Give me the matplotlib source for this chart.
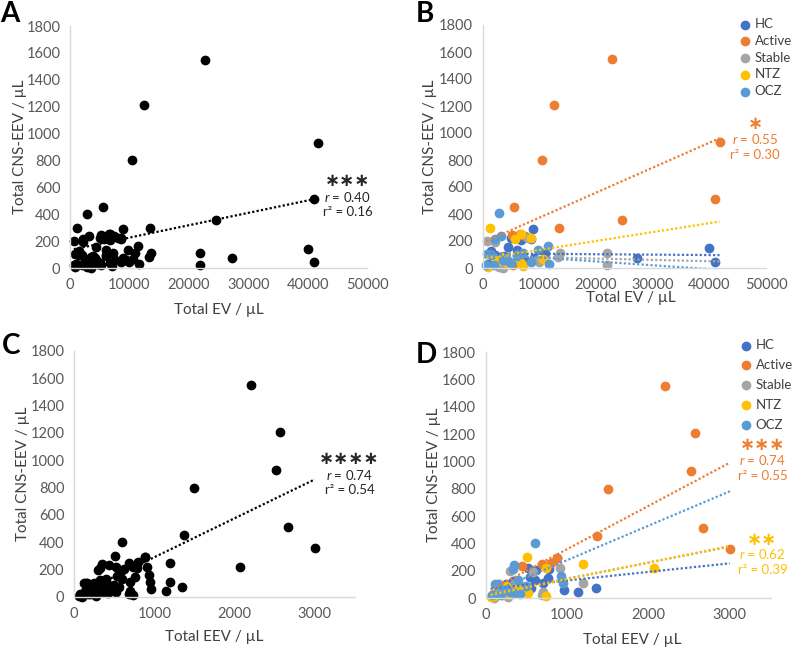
import numpy as np
import matplotlib
matplotlib.use('Agg')
import matplotlib.pyplot as plt

plt.rcParams['font.family'] = ['Lato', 'DejaVu Sans']
plt.rcParams['mathtext.fontset'] = 'custom'
plt.rcParams['mathtext.rm'] = 'Lato'
plt.rcParams['mathtext.it'] = 'Lato:italic'

groups = ['HC', 'Active', 'Stable', 'NTZ', 'OCZ']
colors = ['#4472C4', '#ED7D31', '#A5A5A5', '#FFC000', '#5B9BD5']

# per subject: total EV / uL, total EEV / uL, total CNS-EEV / uL
hc_ev = [40000, 41000, 27200, 8900, 8600, 4460, 6100, 6800, 5050, 1520, 2100, 7500, 3200, 9000, 1000, 2500, 11000, 3800]
hc_eev = [760, 1140, 1350, 880, 780, 540, 600, 620, 520, 330, 250, 960, 380, 560, 120, 230, 700, 420]
hc_cns = [145, 42, 75, 290, 215, 155, 133, 207, 220, 126, 100, 58, 55, 75, 30, 45, 110, 90]

act_ev = [22800, 12500, 41800, 10500, 41000, 5600, 24500, 13500, 6500, 5200, 7400, 4800, 5300]
act_eev = [2200, 2570, 2520, 1500, 2670, 1370, 3000, 880, 800, 690, 440, 120, 200]
act_cns = [1550, 1210, 930, 800, 510, 455, 358, 295, 255, 248, 235, 30, 20]

stb_ev = [700, 2200, 8000, 21900, 21900, 13600, 13300, 2900, 3600, 10000, 4200, 9500, 2500, 6000, 3000]
stb_eev = [300, 580, 910, 1190, 690, 400, 500, 274, 100, 700, 250, 450, 240, 350, 200]
stb_cns = [200, 192, 222, 110, 20, 113, 84, 8, 0, 45, 75, 60, 20, 100, 50]

ntz_ev = [1230, 5650, 6700, 8580, 7100, 6800, 810, 3580, 10600, 1500, 2500, 4500, 3000, 900]
ntz_eev = [510, 740, 1190, 2070, 740, 520, 100, 250, 400, 160, 200, 300, 150, 60]
ntz_cns = [300, 218, 250, 220, 18, 40, 15, 85, 70, 100, 50, 30, 60, 10]

ocz_ev = [2820, 3200, 2200, 11500, 9800, 7200, 8600, 11700, 640, 1500, 3500, 4500, 800, 5000, 2000, 6000]
ocz_eev = [600, 350, 330, 930, 400, 950, 300, 420, 80, 150, 250, 200, 120, 350, 180, 500]
ocz_cns = [405, 238, 215, 163, 135, 112, 45, 30, 22, 100, 60, 50, 105, 35, 20, 90]

ev_by_group = [hc_ev, act_ev, stb_ev, ntz_ev, ocz_ev]
eev_by_group = [hc_eev, act_eev, stb_eev, ntz_eev, ocz_eev]
cns_by_group = [hc_cns, act_cns, stb_cns, ntz_cns, ocz_cns]

# linear trendlines (intercept, slope)
ev_fit_icpt = [108, 188, 89.5, 68, 106]
ev_fit_slope = [-0.0003, 0.0185, -0.00098, 0.0066, -0.00286]
eev_fit_icpt = [65, 41, 25, 15, 25]
eev_fit_slope = [0.063, 0.3165, 0.117, 0.122, 0.252]
all_ev_fit = (134, 0.0092)
all_eev_fit = (6, 0.285)

all_ev = np.concatenate(ev_by_group)
all_eev = np.concatenate(eev_by_group)
all_cns = np.concatenate(cns_by_group)

fig = plt.figure(figsize=(7.96, 6.47), dpi=100)
W, H = 796, 647


def add_ax(left, top, right, bottom):
    return fig.add_axes([left / W, 1 - bottom / H, (right - left) / W, (bottom - top) / H])


axA = add_ax(70, 26, 367, 268)
axB = add_ax(482.7, 25, 766, 268)
axC = add_ax(74, 351, 355, 597)
axD = add_ax(485.7, 352, 770.6, 598)


def style(ax, xmax, xticks, xlab, xlab_y, xlab_x, ylab_x):
    ax.set_xlim(0, xmax)
    ax.set_ylim(0, 1800)
    ax.set_xticks(xticks)
    ax.set_yticks(range(0, 1801, 200))
    for s in ['top', 'right']:
        ax.spines[s].set_visible(False)
    for s in ['left', 'bottom']:
        ax.spines[s].set_color('#d9d9d9')
        ax.spines[s].set_linewidth(1.0)
    ax.tick_params(length=0, labelsize=10.5, labelcolor='#595959')
    ax.tick_params(axis='x', pad=7)
    ax.tick_params(axis='y', pad=7)
    ax.set_xlabel(xlab, fontsize=11, color='#404040')
    ax.set_ylabel('Total CNS-EEV / µL', fontsize=11, color='#404040')
    ax.xaxis.label.set_va('center')
    ax.yaxis.label.set_va('center')
    ax.xaxis.set_label_coords(xlab_x, xlab_y)
    ax.yaxis.set_label_coords(ylab_x, 0.5)


dot = (0, (1, 1))

# A: all subjects, EV
axA.scatter(all_ev, all_cns, s=36, color='black', clip_on=False, zorder=2)
xs = np.array([all_ev.min(), all_ev.max()])
axA.plot(xs, all_ev_fit[0] + all_ev_fit[1] * xs, color='black', lw=1.6, ls=dot, zorder=3)
style(axA, 50000, range(0, 50001, 10000), 'Total EV / µL', -0.174, 0.50, -0.168)

# B: by group, EV
xs = np.array([all_ev.min(), all_ev.max()])
for g, c, ev, cns in zip(groups, colors, ev_by_group, cns_by_group):
    axB.scatter(ev, cns, s=36, color=c, label=g, clip_on=False, zorder=2)
for c, b0, b1 in zip(colors, ev_fit_icpt, ev_fit_slope):
    axB.plot(xs, b0 + b1 * xs, color=c, lw=1.6, ls=dot, zorder=3)
style(axB, 50000, range(0, 50001, 10000), 'Total EV / µL', -0.125, 0.523, -0.186)

# C: all subjects, EEV
axC.scatter(all_eev, all_cns, s=36, color='black', clip_on=False, zorder=2)
xs = np.array([all_eev.min(), all_eev.max()])
axC.plot(xs, all_eev_fit[0] + all_eev_fit[1] * xs, color='black', lw=1.6, ls=dot, zorder=3)
style(axC, 3500, range(0, 3001, 1000), 'Total EEV / µL', -0.163, 0.50, -0.183)

# D: by group, EEV
for g, c, eev, cns in zip(groups, colors, eev_by_group, cns_by_group):
    axD.scatter(eev, cns, s=36, color=c, label=g, clip_on=False, zorder=2)
for c, b0, b1 in zip(colors, eev_fit_icpt, eev_fit_slope):
    axD.plot(xs, b0 + b1 * xs, color=c, lw=1.6, ls=dot, zorder=3)
style(axD, 3500, range(0, 3001, 1000), 'Total EEV / µL', -0.171, 0.515, -0.181)


def stats(ax, x, y_star, y_r, y_r2, stars, r, r2, color):
    ax.text(x, y_star, stars, ha='center', va='center', fontsize=13, color=color,
            family='DejaVu Sans', fontweight='bold')
    ax.text(x, y_r, '$r$ = ' + r, ha='center', va='center', fontsize=9.5, color=color)
    ax.text(x, y_r2, 'r² = ' + r2, ha='center', va='center', fontsize=9.5, color=color)


stats(axA, 46700, 645, 528, 413, '∗∗∗', '0.40', '0.16', '#262626')
stats(axB, 48100, 1065, 955, 835, '∗', '0.55', '0.30', colors[1])
stats(axC, 3430, 1008, 892, 780, '∗∗∗∗', '0.74', '0.54', '#262626')
stats(axD, 3400, 1118, 1012, 895, '∗∗∗', '0.74', '0.55', colors[1])
stats(axD, 3400, 428, 322, 208, '∗∗', '0.62', '0.39', colors[3])

for ax, x0, ytop, sp in [(axB, 740, 18, 0.36), (axD, 741, 339, 0.6)]:
    ax.legend(loc='upper left', bbox_to_anchor=(x0 / W, 1 - ytop / H),
              bbox_transform=fig.transFigure, frameon=False, fontsize=9.5,
              handlelength=0.8, handletextpad=0.3, borderpad=0, borderaxespad=0,
              labelspacing=sp, scatterpoints=1, labelcolor='#404040')

for lab, x, y in [('A', 0, 1), ('B', 416, 1), ('C', 2, 333), ('D', 416, 342)]:
    fig.text(x / W, 1 - y / H, lab, fontsize=20, fontweight='bold', ha='left', va='top')

fig.savefig('out.png', dpi=100)
